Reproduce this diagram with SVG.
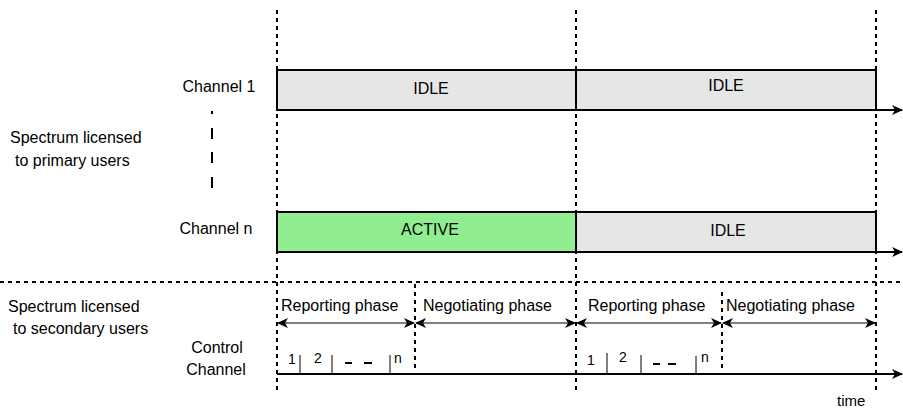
<svg xmlns="http://www.w3.org/2000/svg" width="903" height="410" viewBox="0 0 903 410">
<defs>
<style>
text{font-family:"Liberation Sans",Arial,sans-serif;font-size:16px;fill:#000}
.c{text-anchor:middle}
.s{font-size:14px}
.t{font-size:15px}
.box{stroke:#000;stroke-width:2}
.idle{fill:#e6e6e6}
.act{fill:#90ee90}
.dot{stroke:#000;stroke-width:2;stroke-dasharray:4 4;fill:none}
.ln{stroke:#000;stroke-width:2;fill:none}
.thin{stroke:#000;stroke-width:1;fill:none}
</style>
<marker id="ah" viewBox="0 0 11 10" refX="10" refY="5" markerWidth="11" markerHeight="10" markerUnits="userSpaceOnUse" orient="auto-start-reverse">
<path d="M0,0 L11,5 L0,10 L3,5 Z" fill="#000"/>
</marker>
</defs>
<g id="channel1">
<rect class="box idle" x="277" y="70" width="299" height="40"/>
<rect class="box idle" x="576" y="70" width="300" height="40"/>
<text class="c" x="431" y="94">IDLE</text>
<text class="c" x="726" y="91">IDLE</text>
</g>
<g id="channeln">
<rect class="box act" x="277" y="212" width="299" height="40"/>
<rect class="box idle" x="576" y="212" width="300" height="40"/>
<text class="c" x="430" y="235">ACTIVE</text>
<text class="c" x="728" y="236">IDLE</text>
</g>
<g id="labels">
<text class="c" x="219" y="92">Channel 1</text>
<text class="c" x="216" y="234">Channel n</text>
<text x="10" y="143">Spectrum licensed</text>
<text x="15" y="166">to primary users</text>
<text x="8" y="312">Spectrum licensed</text>
<text x="13" y="334">to secondary users</text>
<text class="c" x="217" y="353">Control</text>
<text class="c" x="216" y="375">Channel</text>
<text x="281" y="311">Reporting phase</text>
<text x="423" y="311">Negotiating phase</text>
<text x="588" y="311">Reporting phase</text>
<text x="726" y="311">Negotiating phase</text>
<text x="837" y="406" class="t">time</text>
<text class="s" x="288" y="364">1</text>
<text class="s" x="314" y="363">2</text>
<text class="s" x="394" y="363">n</text>
<text class="s" x="587" y="365">1</text>
<text class="s" x="619" y="362">2</text>
<text class="s" x="701" y="362">n</text>
</g>
<g id="connectors">
<line class="dot" x1="277" y1="10" x2="277" y2="392"/>
<line class="dot" x1="576" y1="10" x2="576" y2="392"/>
<line class="dot" x1="876" y1="10" x2="876" y2="394"/>
<line class="dot" x1="0" y1="282" x2="903" y2="282"/>
<line class="dot" x1="415" y1="284" x2="415" y2="372"/>
<line class="dot" x1="722" y1="292" x2="722" y2="372"/>
<line class="ln" x1="876" y1="110" x2="902" y2="110" marker-end="url(#ah)"/>
<line class="ln" x1="876" y1="252" x2="902" y2="252" marker-end="url(#ah)"/>
<line class="ln" x1="277" y1="374" x2="902" y2="374" marker-end="url(#ah)"/>
<line class="thin" x1="278" y1="323" x2="414" y2="323" marker-start="url(#ah)" marker-end="url(#ah)"/>
<line class="thin" x1="416" y1="323" x2="575" y2="323" marker-start="url(#ah)" marker-end="url(#ah)"/>
<line class="thin" x1="577" y1="323" x2="721" y2="323" marker-start="url(#ah)" marker-end="url(#ah)"/>
<line class="thin" x1="723" y1="323" x2="875" y2="323" marker-start="url(#ah)" marker-end="url(#ah)"/>
<line class="thin" x1="300" y1="355" x2="300" y2="374"/>
<line class="thin" x1="332" y1="355" x2="332" y2="374"/>
<line class="thin" x1="390" y1="355" x2="390" y2="374"/>
<line class="thin" x1="607" y1="353" x2="607" y2="374"/>
<line class="thin" x1="641" y1="355" x2="641" y2="374"/>
<line class="thin" x1="696" y1="356" x2="696" y2="374"/>
<line class="ln" x1="345" y1="363" x2="352" y2="363"/>
<line class="ln" x1="364" y1="363" x2="372" y2="363"/>
<line class="ln" x1="653" y1="364" x2="660" y2="364"/>
<line class="ln" x1="668" y1="364" x2="676" y2="364"/>
<line class="ln" x1="212" y1="111" x2="212" y2="114"/>
<line class="ln" x1="212" y1="128" x2="212" y2="139"/>
<line class="ln" x1="212" y1="152" x2="212" y2="163"/>
<line class="ln" x1="212" y1="177" x2="212" y2="188"/>
</g>
</svg>
